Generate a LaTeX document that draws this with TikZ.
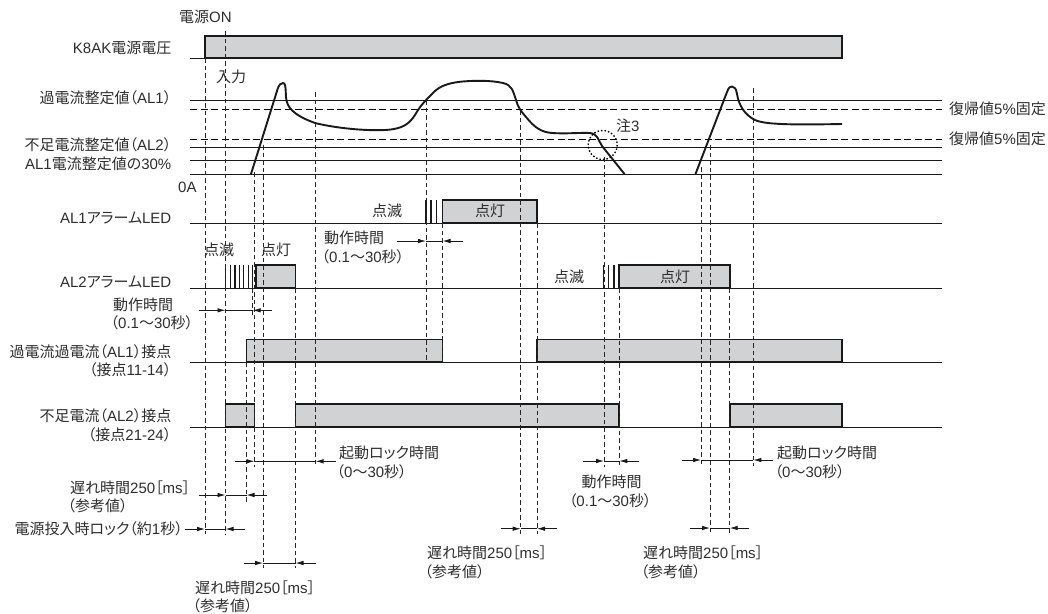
\documentclass[tikz,border=0pt]{standalone}
\usepackage{fontspec}
\usetikzlibrary{arrows.meta}
\setmainfont{Liberation Sans}
\newfontfamily\jpfont[RawFeature=+palt]{Noto Sans CJK JP}
\newcommand{\jp}[1]{{\jpfont #1}}
\newcommand{\lagtext}{\jp{遅れ時間}250\jp{［}ms\jp{］}\\\hspace*{-2.5pt}\jp{（参考値）}}
\newcommand{\optext}{\jp{動作時間}\\\hspace*{-2.5pt}\jp{（}0.1\jp{～}30\jp{秒）}}
\newcommand{\locktext}{\jp{起動ロック時間}\\\hspace*{-2.5pt}\jp{（}0\jp{～}30\jp{秒）}}
\definecolor{bargray}{RGB}{208,210,211}
\definecolor{inkgray}{RGB}{45,45,45}
\tikzset{
    lbl/.style={inner sep=0pt,text=inkgray,font=\fontsize{15}{18.5}\selectfont},
    lblr/.style={lbl,anchor=east,align=right},
    lbll/.style={lbl,anchor=west,align=left},
    base/.style={line width=1pt,draw=black!90},
    limit/.style={line width=1pt,dash pattern=on 7pt off 3.5pt},
    guide/.style={line width=0.9pt,draw=black!85,dash pattern=on 4.5pt off 3pt},
    bar/.style={draw=black!90,fill=bargray,line width=1.4pt},
    blink/.style={line width=1.2pt,draw=black!90},
    wave/.style={line width=1.9pt,draw=black!90,line join=round},
    dimline/.style={line width=0.8pt,draw=black!90,-{Latex[length=8pt,width=4.5pt]}}
}
\begin{document}
\begin{tikzpicture}[x=1pt,y=-1pt]
    \useasboundingbox (0,0) rectangle (1048,613);
    % grey bars
    \foreach \xa/\xb/\ya/\yb in {205/842/36/58, 442.5/537/200/223, 256/295.5/265/288, 619/730/265/288,
        246.5/442.5/339.5/362, 537/842/339.5/362, 225.5/254.5/404/427, 295.5/619/404/427, 730/842/404/427}
        \draw[bar] (\xa,\yb) rectangle (\xb,\ya);
    % base lines
    \foreach \y in {100.5,147,160.5,174,223,288,362,427}
        \draw[base] (190,\y) -- (942,\y);
    \draw[base] (190,58) -- (205,58);
    \foreach \y in {109,139}
        \draw[limit] (190,\y) -- (942,\y);
    % blinking
    \foreach \x in {225.7,230.7,235,239.3,243.7,248.3,252.7}
        \draw[blink] (\x,265) -- (\x,288);
    \foreach \x in {426,431,436.7}
        \draw[blink] (\x,200) -- (\x,223);
    \foreach \x in {603.3,608.3,614}
        \draw[blink] (\x,265) -- (\x,288);
    % guides
    \foreach \x/\ya/\yb in {205/58/534, 225.5/31/534, 254.5/172/467, 263/145/568, 246.5/362/502, 295.5/288/568,
        315.5/92/467, 252.7/288/315, 426/100/362, 442.5/223/365, 520.7/110/534, 537/223/534, 604/157/467,
        619.3/288/467, 701/167/466, 710/145/533, 729.7/288/533, 753.3/88/466}
        \draw[guide] (\x,\ya) -- (\x,\yb);
    % current
    \draw[wave] (251,174) -- (277,91) .. controls (279,84) and (281,83) .. (283,83)
        .. controls (285.5,83) and (285.5,87) .. (286,97) .. controls (286.5,107) and (293,115) .. (315,123)
        .. controls (335,128) and (365,131) .. (385,130) .. controls (403,129) and (409,124) .. (415,115)
        .. controls (420,106) and (425,101) .. (431,95) .. controls (438,87) and (445,84) .. (458,82)
        .. controls (470,80.5) and (490,80) .. (503,83) .. controls (512,85) and (513,91) .. (516,100)
        .. controls (518,107) and (520,110) .. (526,117) .. controls (535,128) and (541,132) .. (552,133)
        .. controls (565,134) and (580,132.5) .. (590,133) .. controls (598,134) and (598,140) .. (602,146)
        -- (624.5,174);
    \draw[wave] (695.5,174) -- (727,92) .. controls (729,87) and (730,86.5) .. (732,86.5)
        .. controls (735,86.5) and (736,89) .. (737,94) .. controls (739,106) and (745,115) .. (755,120)
        .. controls (765,124.5) and (790,125) .. (842,124);
    \draw[line width=1.4pt,dash pattern=on 1.5pt off 2pt] (602.7,145) circle (14.5);
    % spans
    \foreach \xa/\ta/\tb/\xb/\y in {198.5/225.5/252.7/272/310.3, 235/254.5/315.5/335.5/461.3, 198.5/225.5/246.5/266.7/495,
        185/205/225.5/245/529, 244/263/295.5/316/563, 396.7/426/442.5/463/241, 501/520.7/537/556.7/528.7,
        583/604/619.3/639/461, 681.7/701/753.3/773/460, 690/710/729.7/749/528}
    {
        \draw[dimline] (\xa,\y) -- (\ta,\y);
        \draw[dimline] (\xb,\y) -- (\tb,\y);
        \draw[line width=0.8pt,draw=black!90] (\ta,\y) -- (\tb,\y);
    }
    % labels on the left
    \node[lbl,anchor=west] (poweron) at (179,17) {\jp{電源}ON};
    \node[lblr] (supply) at (171.5,48) {K8AK\jp{電源電圧}};
    \node[lbl,anchor=west] (inputlbl) at (216,77) {\jp{入力}};
    \node[lblr] (overset) at (171.5,98) {\jp{過電流整定値（}AL1\jp{）}};
    \node[lblr] (underset) at (171.5,145) {\jp{不足電流整定値（}AL2\jp{）}};
    \node[lblr] (pctset) at (171.5,164) {AL1\jp{電流整定値の}30\%};
    \node[lbl,anchor=west] (zeroamp) at (178,187) {0A};
    \node[lblr] (ledone) at (171.5,218) {AL1\jp{アラーム}LED};
    \node[lblr] (ledtwo) at (171.5,282) {AL2\jp{アラーム}LED};
    \node[lblr] (relayone) at (171.5,361) {\jp{過電流過電流（}AL1\jp{）接点}\\\jp{（接点}11-14\jp{）}};
    \node[lblr] (relaytwo) at (171.5,425.5) {\jp{不足電流（}AL2\jp{）接点}\\\jp{（接点}21-24\jp{）}};
    \node[lblr] (powerlock) at (183,529) {\jp{電源投入時ロック（約}1\jp{秒）}};
    % labels on the chart
    \node[lbl,anchor=west] (blinktwo) at (204,250) {\jp{点滅}};
    \node[lbl,anchor=west] (littwo) at (261,250) {\jp{点灯}};
    \node[lbl,anchor=west] (blinkone) at (372,211) {\jp{点滅}};
    \node[lbl,anchor=west] (litone) at (475,211) {\jp{点灯}};
    \node[lbl,anchor=west] (blinkthree) at (554,277) {\jp{点滅}};
    \node[lbl,anchor=west] (litthree) at (660,277) {\jp{点灯}};
    \node[lbl,anchor=west] (note) at (616,126) {\jp{注}3};
    \node[lbl,anchor=west] (resetone) at (949,109) {\jp{復帰値}5\%\jp{固定}};
    \node[lbl,anchor=west] (resettwo) at (949,139) {\jp{復帰値}5\%\jp{固定}};
    % timing labels
    \node[lbll] (opone) at (113,314) {\optext};
    \node[lbll] (optwo) at (324,247.5) {\optext};
    \node[lbl,anchor=center,align=center] (opthree) at (611.5,491.5) {\optext};
    \node[lbll] (lockone) at (339,462.5) {\locktext};
    \node[lbll] (locktwo) at (777,462.5) {\locktext};
    \node[lbll] (lagone) at (70,497) {\lagtext};
    \node[lbll] (lagtwo) at (195,597) {\lagtext};
    \node[lbll] (lagthree) at (427,562.5) {\lagtext};
    \node[lbll] (lagfour) at (643,562.5) {\lagtext};
\end{tikzpicture}
\end{document}
